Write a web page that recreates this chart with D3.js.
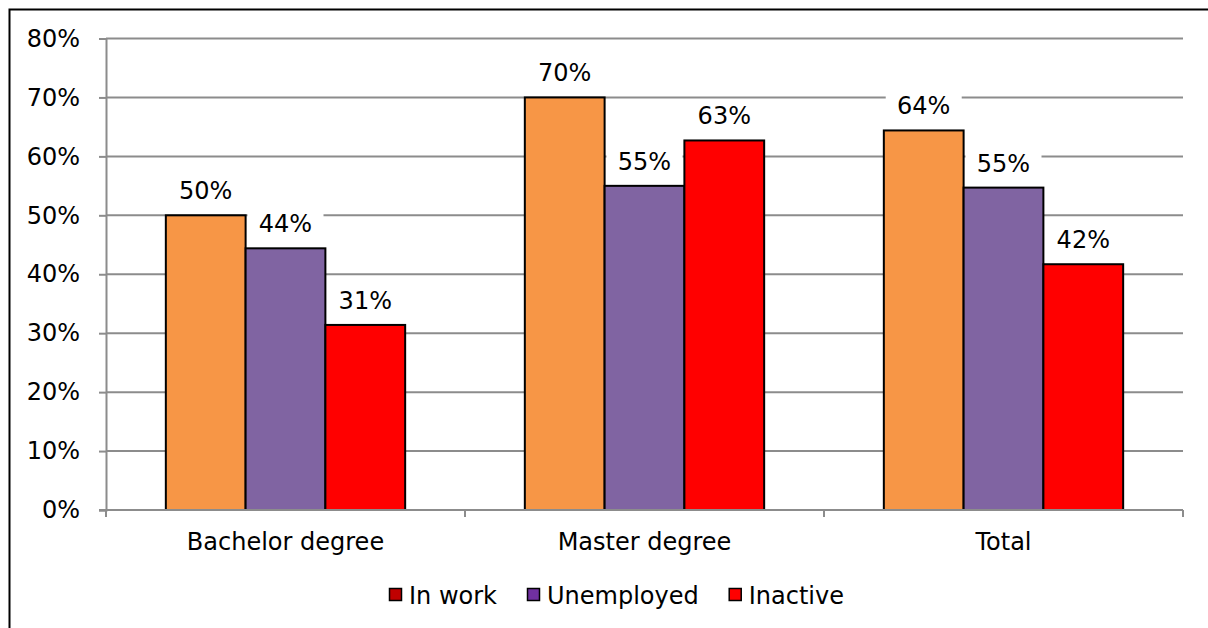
<!DOCTYPE html>
<html>
<head>
<meta charset="utf-8">
<script src="https://cdn.jsdelivr.net/npm/d3@7"></script>
<style>
  html, body { margin: 0; padding: 0; background: #fff; overflow: hidden; }
  svg { display: block; overflow: hidden; font-family: "DejaVu Sans", Verdana, sans-serif; }
</style>
</head>
<body>
<svg id="chart" width="1208" height="628"></svg>
<script>
const categories = ["Bachelor degree", "Master degree", "Total"];
const seriesNames = ["In work", "Unemployed", "Inactive"];
const inWork = [50.0, 70.0, 64.4];
const unemployed = [44.4, 55.0, 54.7];
const inactive = [31.4, 62.7, 41.7];
const yTicks = [0, 10, 20, 30, 40, 50, 60, 70, 80];

const barColors = ["#F79646", "#8064A2", "#FF0000"];
const legendColors = ["#C00000", "#7030A0", "#FF0000"];
const seriesValues = [inWork, unemployed, inactive];

const svg = d3.select("#chart");
const W = 1208, H = 628;
const plot = { left: 106, right: 1183, top: 38.5, bottom: 510 };
const FS = 24;

// outer frame (extends beyond right/bottom edges)
svg.append("rect")
  .attr("x", 9.5).attr("y", 9.5)
  .attr("width", W + 60).attr("height", H + 60)
  .attr("fill", "#fff").attr("stroke", "#000").attr("stroke-width", 2);

const x0 = d3.scaleBand().domain(categories).range([plot.left, plot.right]).padding(0);
const x1 = d3.scaleBand().domain(seriesNames).range([0, x0.bandwidth()])
  .paddingInner(0).paddingOuter(0.75);
const y = d3.scaleLinear().domain([0, 80]).range([plot.bottom, plot.top]);

const gridColor = "#8c8c8c";

// gridlines
svg.append("g").selectAll("line").data(yTicks.filter(d => d > 0)).join("line")
  .attr("x1", plot.left).attr("x2", plot.right)
  .attr("y1", d => y(d)).attr("y2", d => y(d))
  .attr("stroke", gridColor).attr("stroke-width", 2);

// y axis
const yAxis = svg.append("g").attr("transform", `translate(${plot.left},0)`)
  .call(d3.axisLeft(y).tickValues(yTicks).tickFormat(d => d + "%").tickSize(7).tickPadding(19));
yAxis.select(".domain").attr("stroke", gridColor).attr("stroke-width", 2);
yAxis.selectAll(".tick line").attr("stroke", gridColor).attr("stroke-width", 2);
yAxis.selectAll(".tick text").attr("font-size", FS).attr("fill", "#000")
  .attr("font-family", "DejaVu Sans, Verdana, sans-serif");

// bars
const rows = categories.map((c, i) => seriesNames.map((s, j) => ({ cat: c, ser: s, v: seriesValues[j][i], j })));
const groups = svg.append("g").selectAll("g").data(rows).join("g")
  .attr("transform", (d, i) => `translate(${x0(categories[i])},0)`);

groups.selectAll("rect").data(d => d).join("rect")
  .attr("x", d => x1(d.ser)).attr("width", x1.bandwidth())
  .attr("y", d => y(d.v)).attr("height", d => y(0) - y(d.v))
  .attr("fill", d => barColors[d.j]).attr("stroke", "#000").attr("stroke-width", 2);

// x axis
const xAxis = svg.append("g").attr("transform", `translate(0,${plot.bottom})`);
xAxis.append("line").attr("x1", plot.left - 7).attr("x2", plot.right)
  .attr("y1", 0).attr("y2", 0).attr("stroke", gridColor).attr("stroke-width", 2);
const bounds = [plot.left].concat(categories.map(c => x0(c) + x0.bandwidth()));
xAxis.selectAll("line.tk").data(bounds).join("line").attr("class", "tk")
  .attr("x1", d => d).attr("x2", d => d).attr("y1", 0).attr("y2", 7)
  .attr("stroke", gridColor).attr("stroke-width", 2);
xAxis.selectAll("text").data(categories).join("text")
  .attr("x", d => x0(d) + x0.bandwidth() / 2).attr("y", 40)
  .attr("text-anchor", "middle").attr("font-size", FS).attr("fill", "#000")
  .text(d => d);

// data labels with white backgrounds
const lab = groups.selectAll("g.lab").data(d => d).join("g").attr("class", "lab")
  .attr("transform", d => `translate(${x1(d.ser) + x1.bandwidth() / 2},${y(d.v) - 16})`);
lab.append("rect").attr("x", -38).attr("y", -22).attr("width", 76).attr("height", 28)
  .attr("fill", "#fff");
lab.append("text").attr("text-anchor", "middle").attr("font-size", FS).attr("fill", "#000")
  .text(d => Math.round(d.v) + "%");

// legend
const legend = svg.append("g").attr("transform", "translate(389,595)");
let lx = 0;
seriesNames.forEach((s, i) => {
  const g = legend.append("g").attr("transform", `translate(${lx},0)`);
  g.append("rect").attr("x", 0.5).attr("y", -6.5).attr("width", 12).attr("height", 12)
    .attr("fill", legendColors[i]).attr("stroke", "#000").attr("stroke-width", 1.5);
  const t = g.append("text").attr("x", 20).attr("y", 9).attr("font-size", FS).attr("fill", "#000").text(s);
  lx += 20 + t.node().getComputedTextLength() + 30;
});
</script>
</body>
</html>
